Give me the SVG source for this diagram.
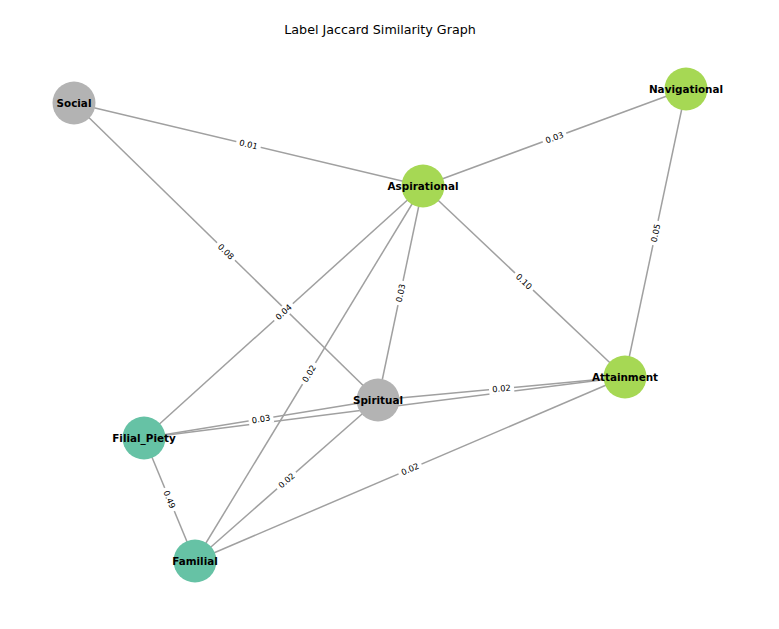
<svg xmlns="http://www.w3.org/2000/svg" width="779" height="629" viewBox="0 0 779 629">
<style>
.e{stroke:#a0a0a0;stroke-width:1.5;fill:none}
.n text{font-family:"DejaVu Sans",sans-serif;font-weight:bold;font-size:10.4px;fill:#000;text-anchor:middle;dominant-baseline:central}
.g{fill:#b3b3b3}.gr{fill:#a6d854}.t{fill:#66c2a5}
.l rect{fill:#fff}
.l text{font-family:"DejaVu Sans",sans-serif;font-size:8.3px;fill:#000;text-anchor:middle;dominant-baseline:central}
.title{font-family:"DejaVu Sans",sans-serif;font-size:12.7px;fill:#000;text-anchor:middle}
</style>
<rect width="779" height="629" fill="#fff"/>
<text class="title" x="380" y="34">Label Jaccard Similarity Graph</text>
<g id="edges">
<line class="e" x1="74" y1="103" x2="423" y2="186"/>
<line class="e" x1="423" y1="186" x2="686" y2="89"/>
<line class="e" x1="74" y1="103" x2="378" y2="400"/>
<line class="e" x1="686" y1="89" x2="625" y2="377"/>
<line class="e" x1="423" y1="186" x2="625" y2="377"/>
<line class="e" x1="423" y1="186" x2="378" y2="400"/>
<line class="e" x1="423" y1="186" x2="144" y2="438"/>
<line class="e" x1="423" y1="186" x2="195" y2="561"/>
<line class="e" x1="144" y1="438" x2="378" y2="400"/>
<line class="e" x1="378" y1="400" x2="625" y2="377"/>
<line class="e" x1="144" y1="438" x2="625" y2="377"/>
<line class="e" x1="378" y1="400" x2="195" y2="561"/>
<line class="e" x1="195" y1="561" x2="625" y2="377"/>
<line class="e" x1="144" y1="438" x2="195" y2="561"/>
</g>
<g id="node-Social" class="n"><circle class="g" cx="74" cy="103" r="21.5"/><text x="74" y="103">Social</text></g>
<g id="node-Navigational" class="n"><circle class="gr" cx="686" cy="89" r="21.5"/><text x="686" y="89">Navigational</text></g>
<g id="node-Aspirational" class="n"><circle class="gr" cx="423" cy="186" r="21.5"/><text x="423" y="186">Aspirational</text></g>
<g id="node-Attainment" class="n"><circle class="gr" cx="625" cy="377" r="21.5"/><text x="625" y="377">Attainment</text></g>
<g id="node-Spiritual" class="n"><circle class="g" cx="378" cy="400" r="21.5"/><text x="378" y="400">Spiritual</text></g>
<g id="node-Filial_Piety" class="n"><circle class="t" cx="144" cy="438" r="21.5"/><text x="144" y="438">Filial_Piety</text></g>
<g id="node-Familial" class="n"><circle class="t" cx="195" cy="561" r="21.5"/><text x="195" y="561">Familial</text></g>
<g id="edge-labels" class="l">
<g transform="translate(248.5,144.5) rotate(13.4)"><rect x="-12.5" y="-5.5" width="25" height="11"/><text>0.01</text></g>
<g transform="translate(554.5,137.5) rotate(-20.2)"><rect x="-12.5" y="-5.5" width="25" height="11"/><text>0.03</text></g>
<g transform="translate(226,251.5) rotate(44.3)"><rect x="-12.5" y="-5.5" width="25" height="11"/><text>0.08</text></g>
<g transform="translate(655.5,233) rotate(-78)"><rect x="-12.5" y="-5.5" width="25" height="11"/><text>0.05</text></g>
<g transform="translate(524,281.5) rotate(43.4)"><rect x="-12.5" y="-5.5" width="25" height="11"/><text>0.10</text></g>
<g transform="translate(400.5,293) rotate(-78.1)"><rect x="-12.5" y="-5.5" width="25" height="11"/><text>0.03</text></g>
<g transform="translate(283.5,312) rotate(-42.1)"><rect x="-12.5" y="-5.5" width="25" height="11"/><text>0.04</text></g>
<g transform="translate(309,373.5) rotate(-58.7)"><rect x="-12.5" y="-5.5" width="25" height="11"/><text>0.02</text></g>
<g transform="translate(261,419) rotate(-9.2)"><rect x="-12.5" y="-5.5" width="25" height="11"/><text>0.03</text></g>
<g transform="translate(501.5,388.5) rotate(-5.3)"><rect x="-12.5" y="-5.5" width="25" height="11"/><text>0.02</text></g>
<g transform="translate(286.5,480.5) rotate(-41.3)"><rect x="-12.5" y="-5.5" width="25" height="11"/><text>0.02</text></g>
<g transform="translate(410,469) rotate(-23.2)"><rect x="-12.5" y="-5.5" width="25" height="11"/><text>0.02</text></g>
<g transform="translate(169.5,499.5) rotate(67.5)"><rect x="-12.5" y="-5.5" width="25" height="11"/><text>0.49</text></g>
</g>
</svg>
